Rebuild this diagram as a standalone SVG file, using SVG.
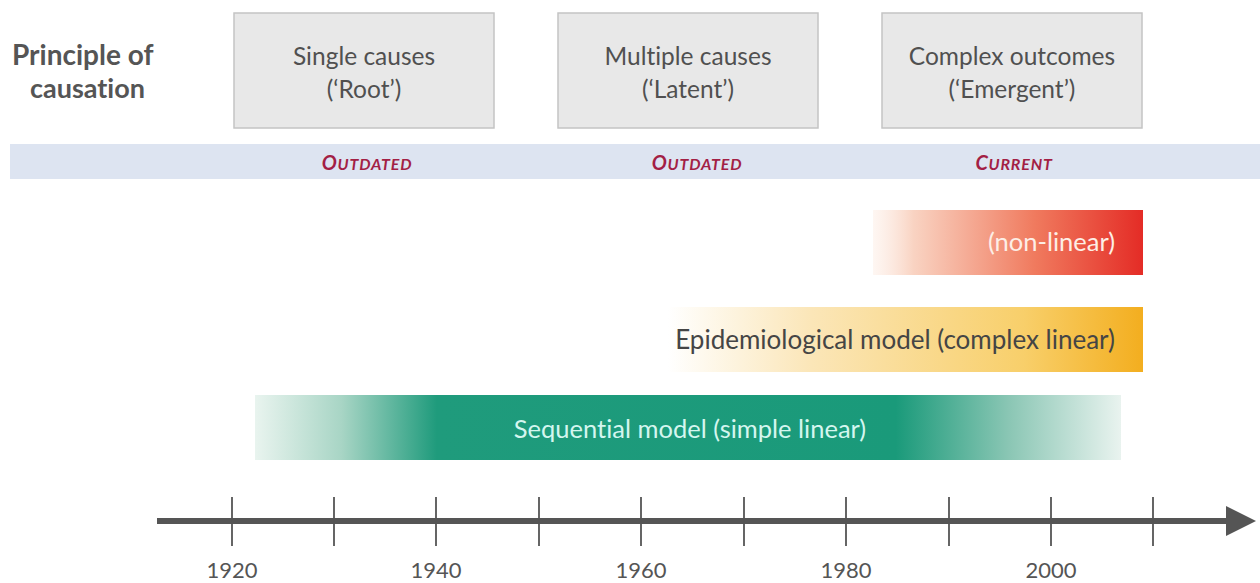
<svg xmlns="http://www.w3.org/2000/svg" width="1260" height="583" viewBox="0 0 1260 583">
<style>
text{font-variant-ligatures:none;font-feature-settings:"liga" 0,"clig" 0,"calt" 0,"dlig" 0}
.box{fill:#e8e8e8;stroke:#c4c4c4;stroke-width:1.5}
.bt{font-family:Lato,"Liberation Sans",sans-serif;font-size:24.5px;fill:#505050;text-anchor:middle}
.tag{font-family:Lato,"Liberation Sans",sans-serif;font-size:20px;font-weight:bold;font-style:italic;fill:#a31f45;text-anchor:middle;letter-spacing:0.8px}
.tag .s{font-size:16px}
.yr{font-family:Lato,"Liberation Sans",sans-serif;font-size:22px;fill:#555;text-anchor:middle}
.tick{stroke:#555;stroke-width:1.8}
</style>
<defs>
<linearGradient id="gRed" x1="0" x2="1" y1="0" y2="0">
<stop offset="0" stop-color="#fdeee6" stop-opacity="0.5"/>
<stop offset="0.15" stop-color="#f9d3c2"/>
<stop offset="0.6" stop-color="#f07a5e"/>
<stop offset="1" stop-color="#e42c26"/>
</linearGradient>
<linearGradient id="gOr" x1="0" x2="1" y1="0" y2="0">
<stop offset="0" stop-color="#ffffff"/>
<stop offset="0.3" stop-color="#fbe6b8"/>
<stop offset="0.75" stop-color="#f8cf6a"/>
<stop offset="1" stop-color="#f3ae1f"/>
</linearGradient>
<linearGradient id="gGr" x1="0" x2="1" y1="0" y2="0">
<stop offset="0" stop-color="#e9f4ef"/>
<stop offset="0.1" stop-color="#a8d5c5"/>
<stop offset="0.21" stop-color="#1f9b7c"/>
<stop offset="0.74" stop-color="#1a9a7a"/>
<stop offset="0.87" stop-color="#8ac6b4"/>
<stop offset="1" stop-color="#e9f3ef"/>
</linearGradient>
<marker id="ah" viewBox="0 0 10 10" refX="2" refY="5" markerWidth="5" markerHeight="7" markerUnits="strokeWidth" orient="auto">
<path d="M0,0 L10,5 L0,10 Z" fill="#555"/>
</marker>
</defs>
<rect width="1260" height="583" fill="#ffffff"/>
<g id="title">
<text x="12" y="65" font-family="Lato,'Liberation Sans',sans-serif" font-size="28" font-weight="bold" fill="#555">Principle of</text>
<text x="30" y="98" font-family="Lato,'Liberation Sans',sans-serif" font-size="27" font-weight="bold" fill="#555">causation</text>
</g>
<g id="box-single">
<rect class="box" x="234" y="13" width="260" height="115"/>
<text class="bt" x="364" y="65">Single causes</text>
<text class="bt" x="364" y="98">(‘Root’)</text>
</g>
<g id="box-multiple">
<rect class="box" x="558" y="13" width="260" height="115"/>
<text class="bt" x="688" y="65">Multiple causes</text>
<text class="bt" x="688" y="98">(‘Latent’)</text>
</g>
<g id="box-complex">
<rect class="box" x="882" y="13" width="260" height="115"/>
<text class="bt" x="1012" y="65">Complex outcomes</text>
<text class="bt" x="1012" y="98">(‘Emergent’)</text>
</g>
<g id="band">
<rect x="10" y="144" width="1250" height="35" fill="#dde4f1"/>
<text class="tag" x="367" y="170">O<tspan class="s">UTDATED</tspan></text>
<text class="tag" x="697" y="170">O<tspan class="s">UTDATED</tspan></text>
<text class="tag" x="1014" y="170">C<tspan class="s">URRENT</tspan></text>
</g>
<g id="bar-nonlinear">
<rect x="873" y="210" width="270" height="65" fill="url(#gRed)"/>
<text x="1115" y="251" font-family="Lato,'Liberation Sans',sans-serif" font-size="25.5" fill="#fdeee6" text-anchor="end">(non-linear)</text>
</g>
<g id="bar-epidemiological">
<rect x="668" y="307" width="475" height="65" fill="url(#gOr)"/>
<text x="1115" y="349" font-family="Lato,'Liberation Sans',sans-serif" font-size="26" fill="#454545" text-anchor="end">Epidemiological model (complex linear)</text>
</g>
<g id="bar-sequential">
<rect x="255" y="395" width="866" height="65" fill="url(#gGr)"/>
<text x="690" y="438" font-family="Lato,'Liberation Sans',sans-serif" font-size="25.5" fill="#d4f6ef" text-anchor="middle">Sequential model (simple linear)</text>
</g>
<g id="connectors">
<line x1="157" y1="521" x2="1232" y2="521" stroke="#555" stroke-width="6" marker-end="url(#ah)"/>
<line class="tick" x1="232" y1="497" x2="232" y2="546"/>
<line class="tick" x1="334" y1="497" x2="334" y2="546"/>
<line class="tick" x1="436" y1="497" x2="436" y2="546"/>
<line class="tick" x1="539" y1="497" x2="539" y2="546"/>
<line class="tick" x1="641" y1="497" x2="641" y2="546"/>
<line class="tick" x1="744" y1="497" x2="744" y2="546"/>
<line class="tick" x1="846" y1="497" x2="846" y2="546"/>
<line class="tick" x1="949" y1="497" x2="949" y2="546"/>
<line class="tick" x1="1051" y1="497" x2="1051" y2="546"/>
<line class="tick" x1="1153" y1="497" x2="1153" y2="546"/>
</g>
<g id="years">
<text class="yr" x="232" y="578">1920</text>
<text class="yr" x="436" y="578">1940</text>
<text class="yr" x="641" y="578">1960</text>
<text class="yr" x="846" y="578">1980</text>
<text class="yr" x="1051" y="578">2000</text>
</g>
</svg>
